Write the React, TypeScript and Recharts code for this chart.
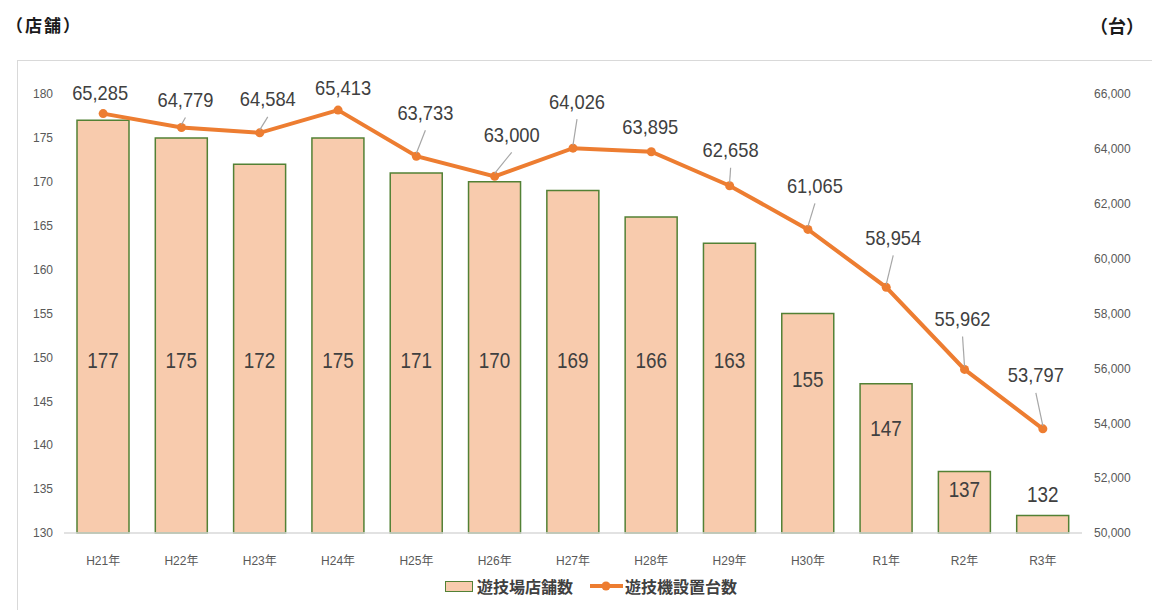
import React from 'react';
import { ComposedChart, Bar, Line, XAxis, YAxis, LabelList, Legend } from 'recharts';

const categories = ['H21年', 'H22年', 'H23年', 'H24年', 'H25年', 'H26年', 'H27年', 'H28年', 'H29年', 'H30年', 'R1年', 'R2年', 'R3年'];
const storeCounts = [177, 175, 172, 175, 171, 170, 169, 166, 163, 155, 147, 137, 132];
const machineCounts = [65285, 64779, 64584, 65413, 63733, 63000, 64026, 63895, 62658, 61065, 58954, 55962, 53797];
const leftTicks = [130, 135, 140, 145, 150, 155, 160, 165, 170, 175, 180];
const rightTicks = [50000, 52000, 54000, 56000, 58000, 60000, 62000, 64000, 66000];
const seriesNames = { stores: '遊技場店舗数', machines: '遊技機設置台数' };
const unitLeft = '（店舗）';
const unitRight = '（台）';

// label nudges (annotation layout, relative to each point)
const lineLabelNudge: [number, number][] = [
  [-3, -21], [4, -28], [8, -34], [5, -23], [9, -44], [17, -42], [4, -47],
  [-1, -25], [1, -36], [7, -44], [7, -50], [-2, -51], [-7, -54],
];

const data = categories.map((name, i) => ({ name, stores: storeCounts[i], machines: machineCounts[i] }));

const TEXT = '#404040';
const fmt = (v: number) => v.toLocaleString('en-US');
const numLen = (s: string, digit: number, comma: number) => {
  let w = 0;
  for (const ch of s) w += ch === ',' ? comma : digit;
  return w;
};

const BarValueLabel = (props: any) => {
  const { x, y, width, height, value } = props;
  const cx = Number(x) + Number(width) / 2;
  const h = Number(height);
  const top = Number(y);
  const cy = h < 40 ? top - 21 : Math.max(top + h * 0.3, 360);
  const s = String(value);
  return (
    <text x={cx} y={cy} textAnchor="middle" dominantBaseline="central" fontSize={22} fill={TEXT}
      textLength={numLen(s, 10.5, 4.8)} lengthAdjust="spacingAndGlyphs">{s}</text>
  );
};

const LineValueLabel = (props: any) => {
  const { x, y, value, index } = props;
  const px = Number(x);
  const py = Number(y);
  const [dx, dy] = lineLabelNudge[index] || [0, -24];
  const cx = px + dx;
  const cy = py + dy;
  const startY = cy + 18;
  const gap = py - startY;
  const s = fmt(Number(value));
  return (
    <g>
      {gap > 8 && <line x1={cx} y1={startY} x2={px} y2={py - 3} stroke="#a6a6a6" strokeWidth={1.2} />}
      <text x={cx} y={cy} textAnchor="middle" dominantBaseline="central" fontSize={21} fill={TEXT}
        textLength={numLen(s, 10.2, 5)} lengthAdjust="spacingAndGlyphs">{s}</text>
    </g>
  );
};

const LegendContent = () => (
  <div style={{ display: 'flex', alignItems: 'center', fontSize: 16, color: TEXT, fontWeight: 600, fontFamily: "'Noto Sans CJK JP', sans-serif", lineHeight: '22px', whiteSpace: 'nowrap' }}>
    <span style={{ display: 'inline-block', width: 26, height: 9, background: '#F8CBAD', border: '1.5px solid #538135', marginRight: 4 }} />
    <span>{seriesNames.stores}</span>
    <svg width={33} height={12} style={{ marginLeft: 17, marginRight: 2 }}>
      <line x1={0} y1={6} x2={33} y2={6} stroke="#ED7D31" strokeWidth={4} />
      <circle cx={16} cy={6} r={4.5} fill="#ED7D31" />
    </svg>
    <span>{seriesNames.machines}</span>
  </div>
);

const titleStyle: React.CSSProperties = {
  position: 'absolute', top: 12, fontSize: 17, fontWeight: 600, color: '#1a1a1a',
  fontFamily: "'Noto Sans CJK JP', sans-serif", lineHeight: '26px', whiteSpace: 'nowrap',
};

export default function App() {
  return (
    <div style={{ position: 'absolute', left: 0, top: 0, width: 1152, height: 610, overflow: 'hidden', background: '#fff', fontFamily: "'Liberation Sans', 'Noto Sans CJK JP', sans-serif" }}>
      <div style={{ position: 'absolute', left: 17, top: 60, width: 1160, height: 600, border: '1px solid #d9d9d9', boxSizing: 'border-box' }} />
      <div style={{ ...titleStyle, left: 6, letterSpacing: 2 }}>{unitLeft}</div>
      <div style={{ ...titleStyle, left: 1090, fontSize: 18 }}>{unitRight}</div>
      <div style={{ position: 'absolute', left: 0, top: 0 }}>
        <ComposedChart width={1152} height={610} data={data} margin={{ top: 94, right: 10, left: 14, bottom: 47 }}>
          <XAxis dataKey="name" interval={0} tickLine={false} axisLine={{ stroke: '#d9d9d9', strokeWidth: 1.5 }}
            tick={{ fontSize: 12, fill: '#595959' }} tickMargin={17} height={30} />
          <YAxis yAxisId="left" orientation="left" domain={[130, 180]} ticks={leftTicks} interval={0}
            axisLine={false} tickLine={false} tickMargin={5} width={50} tick={{ fontSize: 12, fill: '#595959' }} />
          <YAxis yAxisId="right" orientation="right" domain={[50000, 66000]} ticks={rightTicks} interval={0}
            axisLine={false} tickLine={false} tickMargin={6} width={60} tick={{ fontSize: 12, fill: '#595959', textAnchor: 'start' }}
            tickFormatter={fmt} />
          <Legend verticalAlign="middle" align="center" layout="horizontal" content={<LegendContent />}
            wrapperStyle={{ top: 575, left: 445, width: 'auto' }} />
          <Bar yAxisId="left" dataKey="stores" name={seriesNames.stores} barSize={52} fill="#F8CBAD" stroke="#538135" strokeWidth={1.5} isAnimationActive={false}>
            <LabelList dataKey="stores" content={<BarValueLabel />} />
          </Bar>
          <Line yAxisId="right" dataKey="machines" name={seriesNames.machines} stroke="#ED7D31" strokeWidth={4}
            dot={{ r: 4.5, fill: '#ED7D31', stroke: '#ED7D31', strokeWidth: 0 }} activeDot={false} isAnimationActive={false}>
            <LabelList dataKey="machines" content={<LineValueLabel />} />
          </Line>
        </ComposedChart>
      </div>
    </div>
  );
}
